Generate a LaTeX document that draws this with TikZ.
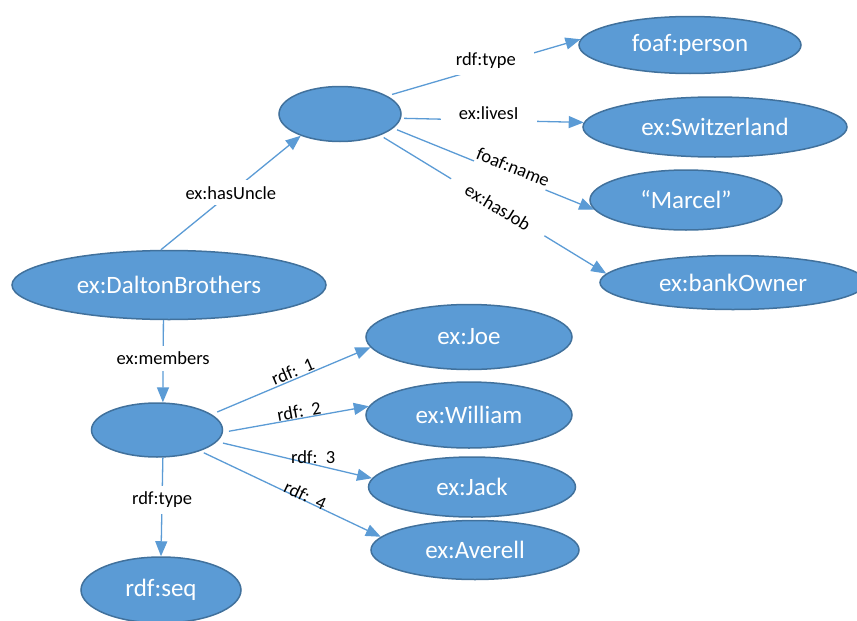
\documentclass[tikz,border=0pt]{standalone}
\usepackage{fontspec}
\setmainfont{Carlito}
\usetikzlibrary{arrows.meta, positioning, shapes.geometric}
\definecolor{azulrdf}{HTML}{5B9BD5}
\definecolor{bordeazul}{HTML}{41719C}
\colorlet{colNodo}{azulrdf}
\colorlet{colBorde}{bordeazul}
\colorlet{colArista}{azulrdf}
\tikzset{
  nodoBase/.style={
    ellipse, draw=colBorde, line width=1.5pt, fill=colNodo,
    text=white, inner sep=0pt,
    font=\fontsize{25}{30}\selectfont
  },
  flecha/.style={-{Triangle[length=15pt,width=12pt]}, line width=1.3pt, colArista},
  etiquetaFlecha/.style={font=\fontsize{18.5}{22}\selectfont, text=black,
    fill=white, inner xsep=18pt, inner ysep=6pt},
  etiquetaRecta/.style={font=\fontsize{18.5}{22}\selectfont, text=black,
    inner sep=1pt},
  etiquetaInclinada/.style={etiquetaRecta, sloped},
}

\begin{document}
\begin{tikzpicture}[x=1pt, y=-1pt]
  \useasboundingbox (0,0) rectangle (857,621);

  % sujeto y nodos en blanco
  \node[nodoBase, minimum width=314pt, minimum height=69pt] (dalton) at (169,285) {ex:DaltonBrothers};
  \node[nodoBase, minimum width=122pt, minimum height=55pt] (tio) at (340,114) {};
  \node[nodoBase, minimum width=131pt, minimum height=54pt, below=82pt of dalton, xshift=-12pt] (lista) {};
  \node[nodoBase, minimum width=160pt, minimum height=66pt, below=98.5pt of lista, xshift=4pt] (secuencia) {rdf:seq};

  % datos del tio
  \node[nodoBase, minimum width=222pt, minimum height=57pt] (persona) at (690,45) {foaf:person};
  \node[nodoBase, minimum width=264pt, minimum height=60pt, below=22pt of persona, xshift=25pt] (suiza) {ex:Switzerland};
  \node[nodoBase, minimum width=192pt, minimum height=60pt, below=11.5pt of suiza, xshift=-29pt] (marcel) {“Marcel”};
  \node[nodoBase, minimum width=266pt, minimum height=54pt, below=24pt of marcel, xshift=47pt] (banco) {ex:bankOwner};

  % miembros
  \node[nodoBase, minimum width=206pt, minimum height=65pt] (joe) at (469,337) {ex:Joe};
  \node[nodoBase, minimum width=206pt, minimum height=66pt, below=11pt of joe] (william) {ex:William};
  \node[nodoBase, minimum width=207pt, minimum height=60pt, below=7.5pt of william, xshift=3pt] (jack) {ex:Jack};
  \node[nodoBase, minimum width=208pt, minimum height=59pt, below=2pt of jack, xshift=3pt] (averell) {ex:Averell};

  \draw[flecha] (dalton.103) -- node[etiquetaFlecha, inner xsep=4pt, pos=0.5]{ex:hasUncle} (tio.209);
  \draw[flecha, shorten <=5pt] (tio.21) -- node[etiquetaFlecha, pos=0.51, yshift=6pt]{rdf:type} (persona.177);
  \draw[flecha, shorten <=3pt] (tio.-4) -- node[etiquetaFlecha, pos=0.48, yshift=7pt]{ex:livesI} (suiza.178);
  \draw[flecha, shorten <=4pt] (tio.-15) -- node[etiquetaInclinada, above=-2pt, fill=white, inner xsep=0pt, inner ysep=4pt, pos=0.58]{foaf:name} (marcel.186);
  \draw[flecha, shorten <=4pt] (tio.-28) -- node[etiquetaFlecha, sloped, pos=0.52]{ex:hasJob} (banco.176);

  \draw[flecha] (dalton.261) -- node[etiquetaFlecha, pos=0.46]{ex:members} (lista.78);
  \draw[flecha] (lista.-78) -- node[etiquetaFlecha, pos=0.43]{rdf:type} (secuencia.north);

  \draw[flecha, shorten <=6pt] (lista.16) -- node[etiquetaInclinada, above, pos=0.53]{rdf:~~1} (joe.186);
  \draw[flecha, shorten <=6pt] (lista.-2) -- node[etiquetaInclinada, above=-1pt, pos=0.53]{rdf:~~2} (william.175);
  \draw[flecha, shorten <=6pt] (lista.-11) -- node[etiquetaRecta, above=-1pt, pos=0.62]{rdf:~~3} (jack.175);
  \draw[flecha, shorten <=4pt] (lista.-26) -- node[etiquetaInclinada, above=-3pt, pos=0.57]{rdf:~~4} (averell.172);
\end{tikzpicture}
\end{document}
